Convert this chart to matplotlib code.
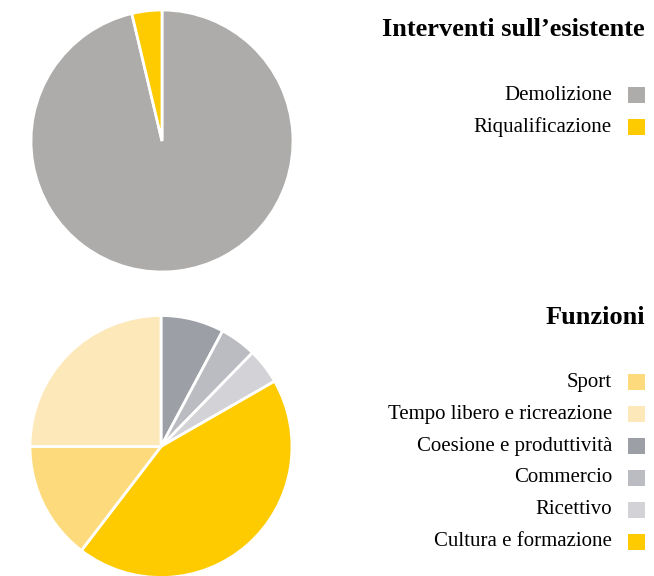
import matplotlib.pyplot as plt
from matplotlib.patches import Rectangle

# ---------------------------- Dati ----------------------------
titolo_1 = "Interventi sull\u2019esistente"
etichette_1 = ["Demolizione", "Riqualificazione"]
valori_1 = [96.3, 3.7]
colori_1 = ["#ADACAA", "#FDCB00"]

titolo_2 = "Funzioni"
# ordine di disegno (orario dall'alto)
fette_2 = ["Coesione e produttività", "Commercio", "Ricettivo",
           "Cultura e formazione", "Sport", "Tempo libero e ricreazione"]
valori_2 = [7.8, 4.5, 4.4, 43.7, 14.6, 25.0]
colori_2 = {"Sport": "#FDDB7C",
            "Tempo libero e ricreazione": "#FCE8B9",
            "Coesione e produttività": "#9C9FA5",
            "Commercio": "#BBBCC1",
            "Ricettivo": "#D3D2D7",
            "Cultura e formazione": "#FDCB00"}
legenda_2 = ["Sport", "Tempo libero e ricreazione", "Coesione e produttività",
             "Commercio", "Ricettivo", "Cultura e formazione"]

plt.rcParams['font.family'] = ['Liberation Serif', 'DejaVu Serif']
W, H = 654, 576
fig = plt.figure(figsize=(W/100, H/100), dpi=100)

def torta(cx, cy, r, valori, colori):
    ax = fig.add_axes([(cx-r)/W, (H-cy-r)/H, 2*r/W, 2*r/H])
    w, _ = ax.pie(valori, colors=colori, startangle=90, counterclock=False,
                  radius=1, wedgeprops=dict(edgecolor='white', linewidth=2))
    for p in w:
        p.set_clip_on(False)
    ax.set_xlim(-1, 1)
    ax.set_ylim(-1, 1)
    ax.set_aspect('equal')
    ax.axis('off')

def legenda(titolo, y_tit, etichette, colori, y0, dy):
    fig.text(645/W, 1-y_tit/H, titolo, ha='right', va='center',
             fontsize=19, fontweight='bold')
    for i, (e, c) in enumerate(zip(etichette, colori)):
        y = y0 + i*dy
        fig.text(612/W, 1-y/H, e, ha='right', va='center', fontsize=15)
        fig.patches.append(Rectangle((628/W, 1-(y+8)/H), 17/W, 16/H,
                                     transform=fig.transFigure,
                                     facecolor=c, edgecolor='none'))

torta(162, 141, 131, valori_1, colori_1)
torta(161, 446.5, 131, valori_2, [colori_2[f] for f in fette_2])

legenda(titolo_1, 30, etichette_1, colori_1, 95, 32)
legenda(titolo_2, 318, legenda_2, [colori_2[e] for e in legenda_2], 382, 32)

fig.savefig('out.png', dpi=100)
